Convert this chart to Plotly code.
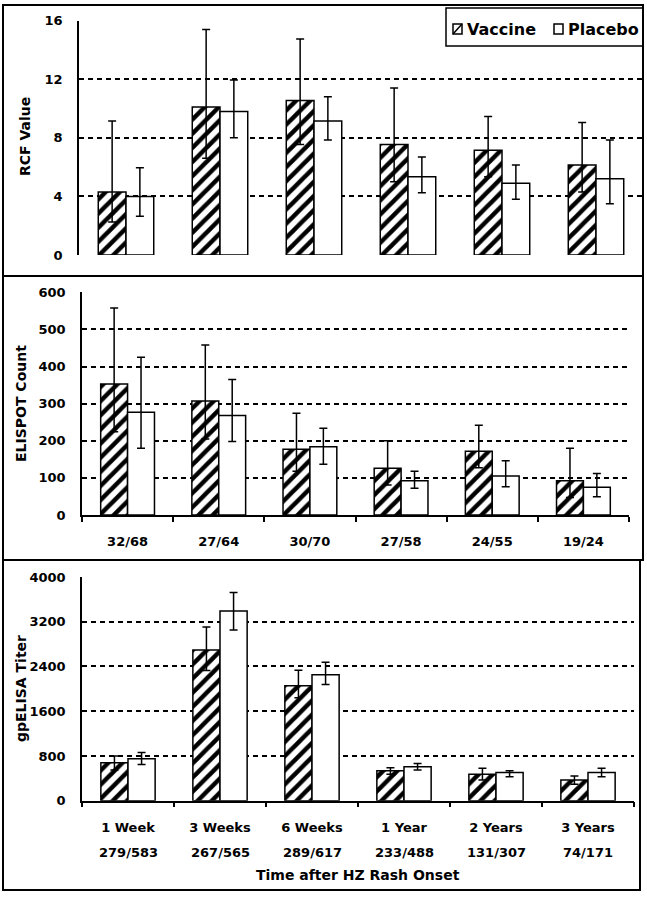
import plotly.graph_objects as go

# ---------------- data ----------------
time_labels = ["1 Week", "3 Weeks", "6 Weeks", "1 Year", "2 Years", "3 Years"]
elispot_n = ["32/68", "27/64", "30/70", "27/58", "24/55", "19/24"]
elisa_n = ["279/583", "267/565", "289/617", "233/488", "131/307", "74/171"]
series_names = ["Vaccine", "Placebo"]

rcf_vac = [4.3, 10.1, 10.55, 7.55, 7.15, 6.15]
rcf_vac_hi = [9.15, 15.4, 14.75, 11.4, 9.45, 9.05]
rcf_vac_lo = [2.25, 6.6, 7.55, 5.0, 5.35, 4.3]
rcf_pla = [4.0, 9.8, 9.15, 5.35, 4.9, 5.2]
rcf_pla_hi = [5.95, 11.95, 10.8, 6.7, 6.15, 7.85]
rcf_pla_lo = [2.65, 8.0, 7.85, 4.25, 3.8, 3.5]

eli_vac = [353, 307, 177, 126, 172, 92]
eli_vac_hi = [558, 458, 274, 200, 242, 180]
eli_vac_lo = [224, 205, 118, 81, 127, 47]
eli_pla = [277, 268, 184, 92, 105, 75]
eli_pla_hi = [425, 365, 234, 118, 146, 112]
eli_pla_lo = [180, 198, 137, 72, 76, 49]

gp_vac = [677, 2695, 2054, 535, 475, 368]
gp_vac_hi = [801, 3105, 2333, 588, 582, 440]
gp_vac_lo = [547, 2327, 1841, 475, 368, 292]
gp_pla = [748, 3390, 2250, 605, 505, 505]
gp_pla_hi = [861, 3721, 2475, 665, 535, 582]
gp_pla_lo = [648, 3051, 2078, 547, 428, 428]

# ---------------- layout helpers ----------------
W, H = 647, 900
FONT = "DejaVu Sans"


def px(x):
    return x / W


def py(y):
    return 1 - y / H


def err(v, hi, lo):
    return dict(type="data", symmetric=False,
                array=[h - a for a, h in zip(v, hi)],
                arrayminus=[a - l for a, l in zip(v, lo)],
                color="black", thickness=1.5, width=4)


vac_marker = dict(color="white", line=dict(color="black", width=1.5),
                  pattern=dict(shape="/", fgcolor="black", bgcolor="white",
                               size=10, solidity=0.45, fgopacity=1,
                               fillmode="overlay"))
pla_marker = dict(color="white", line=dict(color="black", width=1.5))

fig = go.Figure()
panels = [
    ("x", "y", rcf_vac, rcf_vac_hi, rcf_vac_lo, rcf_pla, rcf_pla_hi, rcf_pla_lo),
    ("x2", "y2", eli_vac, eli_vac_hi, eli_vac_lo, eli_pla, eli_pla_hi, eli_pla_lo),
    ("x3", "y3", gp_vac, gp_vac_hi, gp_vac_lo, gp_pla, gp_pla_hi, gp_pla_lo),
]
for xa, ya, v, vh, vl, p, ph, pl in panels:
    fig.add_trace(go.Bar(x=time_labels, y=v, name=series_names[0], marker=vac_marker,
                         error_y=err(v, vh, vl), xaxis=xa, yaxis=ya,
                         showlegend=False))
    fig.add_trace(go.Bar(x=time_labels, y=p, name=series_names[1], marker=pla_marker,
                         error_y=err(p, ph, pl), xaxis=xa, yaxis=ya,
                         showlegend=False))

tickfont = dict(family=FONT, size=13, color="black", weight="bold")
grid = dict(showgrid=True, gridcolor="black", gridwidth=1.5, griddash="5px,4px",
            zeroline=False, tickfont=tickfont, ticks="", ticklabelstandoff=12,
            showline=True, linecolor="black", linewidth=1.5, automargin=False)
xcommon = dict(showline=True, linecolor="black", linewidth=1.5, ticks="outside",
               tickson="boundaries", ticklen=5, tickcolor="black", tickwidth=1.5,
               tickvals=time_labels, tickfont=tickfont, showgrid=False,
               automargin=False)

fig.update_layout(
    width=W, height=H, autosize=False,
    margin=dict(l=0, r=0, t=0, b=0, pad=0, autoexpand=False),
    paper_bgcolor="white", plot_bgcolor="white",
    barmode="group", bargap=0.41, bargroupgap=0,
    font=dict(family=FONT, color="black"),
    showlegend=False,
    xaxis=dict(domain=[px(79), px(643)], anchor="y", showticklabels=False,
               showline=False, ticks="", showgrid=False, automargin=False),
    yaxis=dict(domain=[py(255), py(20.7)], anchor="x", range=[0, 16], dtick=4, **grid),
    xaxis2=dict(domain=[px(82), px(629)], anchor="y2", ticktext=elispot_n,
                ticklabelstandoff=14, **xcommon),
    yaxis2=dict(domain=[py(515), py(292.3)], anchor="x2", range=[0, 600], dtick=100, **grid),
    xaxis3=dict(domain=[px(82), px(634)], anchor="y3", ticktext=time_labels,
                ticklabelstandoff=14, **xcommon),
    yaxis3=dict(domain=[py(800.7), py(577)], anchor="x3", range=[0, 4000], dtick=800, **grid),
)

titlefont = dict(family=FONT, size=14, color="black", weight="bold")
for text, xc, yc in [("RCF Value", 25, 137), ("ELISPOT Count", 21, 404),
                     ("gpELISA Titer", 21, 689)]:
    fig.add_annotation(text=text, x=px(xc), y=py(yc), xref="paper", yref="paper",
                       textangle=-90, showarrow=False, font=titlefont,
                       xanchor="center", yanchor="middle")

for lab, n in zip(time_labels, elisa_n):
    fig.add_annotation(text=n, x=lab, xref="x3", y=py(852), yref="paper",
                       showarrow=False, font=tickfont, yanchor="middle")

fig.add_annotation(text="Time after HZ Rash Onset", x=px(358), y=py(875),
                   xref="paper", yref="paper", showarrow=False, font=titlefont,
                   yanchor="middle")

# legend (drawn as a framed key in the top panel)
legfont = dict(family=FONT, size=16, color="black", weight="bold")
fig.add_shape(type="rect", xref="paper", yref="paper", x0=px(446), x1=px(643),
              y0=py(46), y1=py(8), line=dict(color="black", width=1.5),
              fillcolor="white", layer="above")
fig.add_shape(type="rect", xref="paper", yref="paper", x0=px(453), x1=px(462),
              y0=py(34), y1=py(24), line=dict(color="black", width=1.5),
              fillcolor="white", layer="above")
fig.add_shape(type="line", xref="paper", yref="paper", x0=px(453), x1=px(462),
              y0=py(34), y1=py(24), line=dict(color="black", width=1.5),
              layer="above")
fig.add_shape(type="rect", xref="paper", yref="paper", x0=px(554), x1=px(563),
              y0=py(34), y1=py(24), line=dict(color="black", width=1.5),
              fillcolor="white", layer="above")
for name, x0 in zip(series_names, [465, 566]):
    fig.add_annotation(text=name, x=px(x0), y=py(29), xref="paper", yref="paper",
                       showarrow=False, font=legfont, xanchor="left",
                       yanchor="middle")

# panel frames
frame = dict(color="black", width=2)
fig.add_shape(type="rect", xref="paper", yref="paper", x0=px(3), x1=px(643),
              y0=py(560), y1=py(5), line=frame)
fig.add_shape(type="line", xref="paper", yref="paper", x0=px(3), x1=px(643),
              y0=py(276), y1=py(276), line=frame)
fig.add_shape(type="rect", xref="paper", yref="paper", x0=px(3), x1=px(640),
              y0=py(890), y1=py(560), line=frame)

fig.write_html("out.html", config={"displayModeBar": False},
               post_script="document.body.style.margin='0';"
                           "document.documentElement.style.overflow='hidden';"
                           "document.body.style.overflow='hidden';")
